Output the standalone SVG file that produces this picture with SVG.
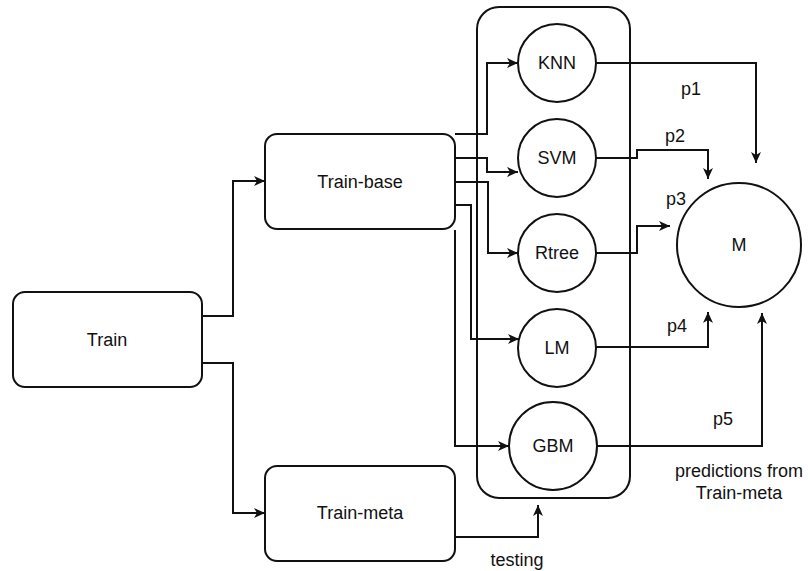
<svg xmlns="http://www.w3.org/2000/svg" width="808" height="571" viewBox="0 0 808 571">
  <defs>
    <marker id="arrow" markerUnits="userSpaceOnUse" markerWidth="12" markerHeight="10" refX="11" refY="5" orient="auto">
      <path d="M0,0 L11,5 L0,10 L3,5 Z" fill="#111"/>
    </marker>
  </defs>
  <style>
    .box { fill: #fff; stroke: #111; stroke-width: 2; }
    .node { fill: #fff; stroke: #111; stroke-width: 2; }
    .edge { fill: none; stroke: #111; stroke-width: 2; }
    .arr { marker-end: url(#arrow); }
    text { font-family: "Liberation Sans", Arial, sans-serif; font-size: 18px; fill: #111; text-anchor: middle; dominant-baseline: central; }
  </style>
  <rect width="808" height="571" fill="#fff"/>

  <!-- container around the base learners -->
  <g id="base-learners">
    <rect class="box" x="477" y="7" width="153" height="491" rx="22"/>
  </g>

  <g id="connectors">
    <path class="edge arr" d="M202,316 H233 V181 H265"/>
    <path class="edge arr" d="M202,363 H233 V513 H265"/>
    <path class="edge arr" d="M455,134 H487 V63 H518"/>
    <path class="edge arr" d="M455,158 H487 V172 H518"/>
    <path class="edge arr" d="M455,182 H488 V253 H518"/>
    <path class="edge arr" d="M455,205 H471 V339 H519"/>
    <path class="edge arr" d="M455,230 V446 H509"/>
    <path class="edge arr" d="M455,537 H538 V505"/>
    <path class="edge arr" d="M596,63 H756 V163"/>
    <path class="edge arr" d="M596,158 H637 V150 H708 V179"/>
    <path class="edge arr" d="M596,253 H637 V226 H670"/>
    <path class="edge arr" d="M596,347 H708 V312"/>
    <path class="edge arr" d="M597,446 H762 V313"/>
  </g>

  <g id="train">
    <rect class="box" x="13" y="292" width="189" height="95" rx="12"/>
    <text x="107" y="340">Train</text>
  </g>
  <g id="train-base">
    <rect class="box" x="265" y="134" width="190" height="95" rx="12"/>
    <text x="360" y="182">Train-base</text>
  </g>
  <g id="train-meta">
    <rect class="box" x="265" y="466" width="190" height="95" rx="12"/>
    <text x="360" y="513">Train-meta</text>
  </g>

  <g id="knn">
    <circle class="node" cx="557" cy="63" r="39"/>
    <text x="557" y="63">KNN</text>
  </g>
  <g id="svm">
    <circle class="node" cx="557" cy="158" r="39"/>
    <text x="557" y="158">SVM</text>
  </g>
  <g id="rtree">
    <circle class="node" cx="557" cy="253" r="39"/>
    <text x="557" y="253">Rtree</text>
  </g>
  <g id="lm">
    <circle class="node" cx="557" cy="348" r="39"/>
    <text x="557" y="348">LM</text>
  </g>
  <g id="gbm">
    <circle class="node" cx="553" cy="446" r="44"/>
    <text x="553" y="446">GBM</text>
  </g>
  <g id="m">
    <circle class="node" cx="739" cy="245" r="62"/>
    <text x="739" y="245">M</text>
  </g>

  <g id="labels">
    <text x="691" y="89">p1</text>
    <text x="675" y="136">p2</text>
    <text x="676" y="199">p3</text>
    <text x="677" y="326">p4</text>
    <text x="723" y="419">p5</text>
    <text x="739" y="471">predictions from</text>
    <text x="739" y="493">Train-meta</text>
    <text x="517" y="560">testing</text>
  </g>
</svg>
